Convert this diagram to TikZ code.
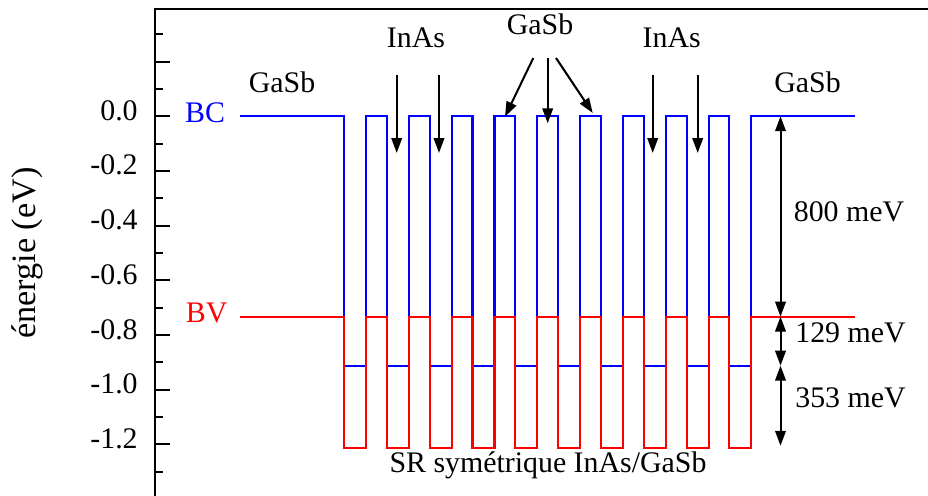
\documentclass[tikz,border=0pt]{standalone}
\usepackage{fontspec}
\setmainfont{Liberation Serif}
\usetikzlibrary{arrows.meta}
\newcommand{\lab}{\fontsize{17}{20}\selectfont}
\newcommand{\grandlab}{\fontsize{19.5}{23}\selectfont}

\begin{document}
\begin{tikzpicture}[x=0.02cm,y=5.47cm,
    trait/.style={line width=1.15pt},
    fleche/.style={line width=1.15pt,-{Triangle[length=8.5pt,width=6pt]}},
    cote/.style={line width=1.15pt,{Triangle[length=8.5pt,width=6pt]}-{Triangle[length=8.5pt,width=6pt]}},
    every node/.style={font=\lab,inner sep=0pt}]
   \useasboundingbox (0,-1.3883) rectangle (928,0.4252);
   % axe et cadre
   \draw[trait] (155,-1.3883) -- (155,0.3923) -- (928,0.3923);
   \foreach \t in {-13,...,3}
     \draw[trait] (155,\t/10) -- ++(8,0);
   \foreach \t in {-12,-10,...,2}
     \draw[trait] (155,\t/10) -- ++(15,0);
   \foreach \t/\l [count=\i] in {0/0.0,-0.2/-0.2,-0.4/-0.4,-0.6/-0.6,-0.8/-0.8,-1.0/-1.0,-1.2/-1.2}
     \node[anchor=mid east] (y\i) at (138,\t) {\l};
   \node[rotate=90,font=\grandlab] (ylab) at (27,-0.5) {énergie (eV)};
   % bandes
   \draw[trait,blue] (240,0) \foreach \i in {0,...,9}
     { -- ({344+42.83*\i},0) -- ({344+42.83*\i},-0.912) -- ({366+42.83*\i},-0.912) -- ({366+42.83*\i},0) }
     -- (855,0);
   \draw[trait,red] (240,-0.7327) \foreach \i in {0,...,9}
     { -- ({344+42.83*\i},-0.7327) -- ({344+42.83*\i},-1.2117) -- ({366+42.83*\i},-1.2117) -- ({366+42.83*\i},-0.7327) }
     -- (855,-0.7327);
   \node[anchor=base,blue] (bclab) at (205,-0.0234) {BC};
   \node[anchor=base,red]  (bvlab) at (206.7,-0.7547) {BV};
   % materiaux
   \node[anchor=base] (gasbL) at (282,0.0852) {GaSb};
   \node[anchor=base] (gasbR) at (807.5,0.0852) {GaSb};
   \node[anchor=base] (inasL) at (416,0.2497) {InAs};
   \node[anchor=base] (inasR) at (671.7,0.2497) {InAs};
   \node[anchor=base] (gasbM) at (540,0.2973) {GaSb};
   \node[anchor=base] (sr) at (548,-1.303) {SR symétrique InAs/GaSb};
   \coordinate (i1) at (396.7,0.151);  \coordinate (j1) at (396.7,-0.1342);
   \coordinate (i2) at (439,0.151);    \coordinate (j2) at (439,-0.1342);
   \coordinate (i3) at (652.7,0.151);  \coordinate (j3) at (652.7,-0.1342);
   \coordinate (i4) at (697.7,0.151);  \coordinate (j4) at (697.7,-0.1342);
   \coordinate (g1) at (533.3,0.2132); \coordinate (h1) at (505,-0.0015);
   \coordinate (g2) at (547.7,0.2132); \coordinate (h2) at (547.7,-0.0256);
   \coordinate (g3) at (556,0.2132);   \coordinate (h3) at (592.7,0.012);
   \foreach \k in {1,...,4}
     \draw[fleche] (i\k) -- (j\k);
   \foreach \k in {1,...,3}
     \draw[fleche] (g\k) -- (h\k);
   % ecarts
   \coordinate (bc) at (780.5,0);
   \coordinate (bv) at (780.5,-0.7327);
   \coordinate (cw) at (780.5,-0.912);
   \coordinate (vw) at (780.5,-1.205);
   \draw[cote] (bc) -- (bv);
   \draw[cote] (bv) -- (cw);
   \draw[cote] (cw) -- (vw);
   \node[anchor=base] (e800) at (849,-0.3864) {800 meV};
   \node[anchor=base] (e129) at (850.5,-0.829) {129 meV};
   \node[anchor=base] (e353) at (850.5,-1.0665) {353 meV};
\end{tikzpicture}
\end{document}
